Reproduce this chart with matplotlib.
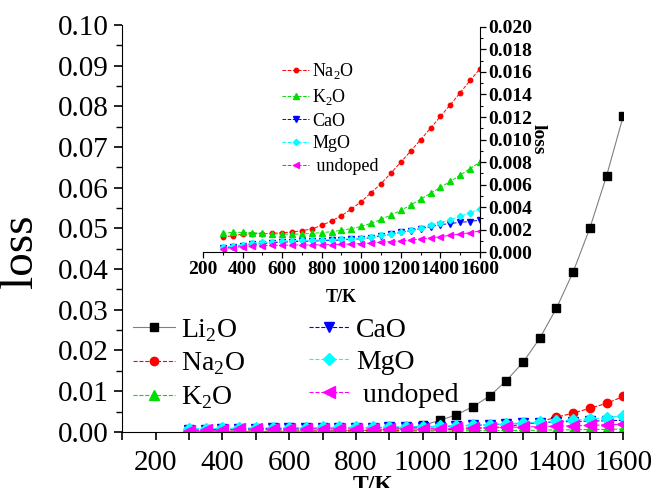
import numpy as np
import matplotlib
matplotlib.use("Agg")
import matplotlib.pyplot as plt
from matplotlib.ticker import MultipleLocator, FormatStrFormatter

plt.rcParams['font.family'] = 'Liberation Serif'
plt.rcParams['mathtext.fontset'] = 'custom'
plt.rcParams['mathtext.rm'] = 'Liberation Serif'

# Temperatures (K)
T = np.arange(300, 1601, 50)

# Main plot values
li2o = [0.0001, 0.0001, 0.0001, 0.0001, 0.0001, 0.0001, 0.0002, 0.0002, 0.0002, 0.0003,
        0.0003, 0.0004, 0.0006, 0.0009, 0.0016, 0.0028, 0.0042, 0.0062, 0.0088, 0.0126,
        0.0171, 0.0230, 0.0304, 0.0393, 0.0501, 0.0629, 0.0776]
na2o_main = [0.0002, 0.0002, 0.0002, 0.0002, 0.0002, 0.0002, 0.0002, 0.0002, 0.0002, 0.0002,
             0.0003, 0.0003, 0.0003, 0.0004, 0.0004, 0.0005, 0.0006, 0.0008, 0.0010, 0.0013,
             0.0018, 0.0025, 0.0036, 0.0046, 0.0058, 0.0070, 0.0087]
k2o_main = [0.0001, 0.0001, 0.0001, 0.0001, 0.0001, 0.0001, 0.0001, 0.0001, 0.0001, 0.0001,
            0.0001, 0.0001, 0.0001, 0.0002, 0.0002, 0.0002, 0.0002, 0.0003, 0.0003, 0.0003,
            0.0004, 0.0004, 0.0005, 0.0005, 0.0006, 0.0006, 0.0007]
cao_main = [0.0004, 0.0005, 0.0006, 0.0007, 0.0008, 0.00085, 0.0009, 0.00094, 0.00097, 0.0010,
            0.00102, 0.00105, 0.0011, 0.00115, 0.0012, 0.0013, 0.00145, 0.0016, 0.00178, 0.00192,
            0.0021, 0.00227, 0.00245, 0.00255, 0.00266, 0.00272, 0.00287]
mgo_main = [0.0008, 0.0008, 0.0009, 0.0009, 0.0010, 0.0010, 0.0010, 0.0010, 0.0011, 0.0011,
            0.0011, 0.0011, 0.0012, 0.0012, 0.0013, 0.0014, 0.0015, 0.0017, 0.0018, 0.0020,
            0.0022, 0.0024, 0.0026, 0.0029, 0.0032, 0.0035, 0.0040]
undoped_main = [0.0003, 0.0004, 0.0005, 0.0006, 0.0006, 0.0006, 0.0006, 0.0007, 0.0007, 0.0007,
                0.0007, 0.0007, 0.0007, 0.0007, 0.0008, 0.0008, 0.0009, 0.0010, 0.0010, 0.0011,
                0.0012, 0.0013, 0.0014, 0.0015, 0.0016, 0.0017, 0.0019]

# Inset values
na2o_in = [0.00133, 0.00148, 0.0016, 0.00165, 0.00165, 0.00168, 0.00174, 0.0018, 0.00192, 0.00207,
           0.00239, 0.00278, 0.00325, 0.00384, 0.00449, 0.00529, 0.00609, 0.00703, 0.0080, 0.00898,
           0.00999, 0.0110, 0.01205, 0.01309, 0.01415, 0.01524, 0.01628]
k2o_in = [0.00168, 0.00177, 0.00177, 0.00174, 0.00168, 0.00165, 0.00162, 0.0016, 0.00162, 0.00168,
          0.00174, 0.00183, 0.00195, 0.0021, 0.0023, 0.00257, 0.00292, 0.00331, 0.00372, 0.0042,
          0.0047, 0.00523, 0.00576, 0.00629, 0.00685, 0.00742, 0.0080]
cao_in = [0.0004, 0.0005, 0.0006, 0.0007, 0.00078, 0.00085, 0.0009, 0.00094, 0.00097, 0.0010,
          0.00102, 0.00105, 0.0011, 0.00115, 0.0012, 0.0013, 0.00145, 0.0016, 0.00178, 0.00192,
          0.0021, 0.00227, 0.00245, 0.00255, 0.00266, 0.00272, 0.00287]
mgo_in = [0.00044, 0.00056, 0.00068, 0.0008, 0.00089, 0.00095, 0.0010, 0.00103, 0.00106, 0.00109,
          0.00109, 0.00112, 0.00115, 0.00121, 0.00127, 0.00139, 0.00151, 0.00165, 0.0018, 0.00198,
          0.00216, 0.00239, 0.00263, 0.0029, 0.00319, 0.00352, 0.00387]
undoped_in = [0.00032, 0.00041, 0.0005, 0.00056, 0.00059, 0.00062, 0.00062, 0.00065, 0.00065, 0.00065,
              0.00068, 0.00068, 0.00071, 0.00074, 0.00077, 0.00083, 0.00089, 0.00095, 0.0010, 0.00109,
              0.00118, 0.00127, 0.00139, 0.00151, 0.00162, 0.00174, 0.00189]

colors = {'Li': 'black', 'Na': 'red', 'K': '#00dd00', 'Ca': 'blue', 'Mg': 'cyan', 'un': 'magenta'}

fig = plt.figure(figsize=(6.54, 4.88), dpi=100)

# Main axes
ax = fig.add_axes([0.187, 0.115, 0.766, 0.834])
ax.plot(T, li2o, '-', color='gray', lw=0.8, marker='s', ms=6, mfc='black', mec='black', label='Li$_2$O')
ax.plot(T, na2o_main, '--', color=colors['Na'], lw=0.8, marker='o', ms=6, label='Na$_2$O')
ax.plot(T, k2o_main, '--', color=colors['K'], lw=0.8, marker='^', ms=7, label='K$_2$O')
ax.plot(T, cao_main, '--', color=colors['Ca'], lw=0.8, marker='v', ms=7, label='CaO')
ax.plot(T, mgo_main, '--', color=colors['Mg'], lw=0.8, marker='D', ms=6, label='MgO')
ax.plot(T, undoped_main, '--', color=colors['un'], lw=0.8, marker='<', ms=8, label=' undoped')

ax.set_xlim(100, 1600)
ax.set_ylim(0, 0.10)
ax.xaxis.set_major_locator(MultipleLocator(200))
ax.xaxis.set_minor_locator(MultipleLocator(100))
ax.yaxis.set_major_locator(MultipleLocator(0.01))
ax.yaxis.set_minor_locator(MultipleLocator(0.005))
ax.yaxis.set_major_formatter(FormatStrFormatter('%.2f'))
ax.spines['top'].set_visible(False)
ax.spines['right'].set_visible(False)
ax.tick_params(axis='both', which='major', labelsize=21, length=6, width=1.2)
ax.tick_params(axis='x', which='major', pad=7)
ax.tick_params(axis='both', which='minor', length=4, width=1.0)
ax.tick_params(axis='x', which='minor', length=6, width=1.2)
ax.set_ylabel('loss', fontsize=34)
ax.yaxis.set_label_coords(-0.16, 0.445)
ax.set_xlabel('T/K', fontsize=17, fontweight='bold', labelpad=-1)

ax.legend(loc='upper left', bbox_to_anchor=(0.0, 0.31), ncol=2, frameon=False,
          fontsize=20, handlelength=1.5, handletextpad=0.2, labelspacing=0.25,
          columnspacing=2.3, borderaxespad=0)

# Inset axes
ins = fig.add_axes([0.3104, 0.483, 0.4235, 0.462])
ins.plot(T, na2o_in, '--', color=colors['Na'], lw=0.7, marker='o', ms=3.2, label='Na$_2$O')
ins.plot(T, k2o_in, '--', color=colors['K'], lw=0.7, marker='^', ms=3.8, label='K$_2$O')
ins.plot(T, cao_in, '--', color=colors['Ca'], lw=0.7, marker='v', ms=3.8, label='CaO')
ins.plot(T, mgo_in, '--', color=colors['Mg'], lw=0.7, marker='D', ms=3.2, label='MgO')
ins.plot(T, undoped_in, '--', color=colors['un'], lw=0.7, marker='<', ms=4, label=' undoped')
ins.set_xlim(200, 1600)
ins.set_ylim(0, 0.020)
ins.xaxis.set_major_locator(MultipleLocator(200))
ins.xaxis.set_minor_locator(MultipleLocator(100))
ins.yaxis.set_major_locator(MultipleLocator(0.002))
ins.yaxis.set_minor_locator(MultipleLocator(0.001))
ins.yaxis.set_major_formatter(FormatStrFormatter('%.3f'))
ins.yaxis.tick_right()
ins.yaxis.set_label_position('right')
ins.spines['top'].set_visible(False)
ins.spines['left'].set_visible(False)
ins.patch.set_alpha(0)
ins.tick_params(axis='both', which='major', labelsize=14, length=4, width=0.9, pad=2)
ins.tick_params(axis='both', which='minor', length=2.5, width=0.8)
for lab in ins.get_xticklabels() + ins.get_yticklabels():
    lab.set_fontweight('bold')
ins.set_xlabel('T/K', fontsize=13, fontweight='bold', labelpad=8)
ins.set_ylabel('loss', fontsize=14, fontweight='bold', rotation=270, labelpad=10)

ins.legend(loc='upper left', bbox_to_anchor=(0.26, 0.88), frameon=False,
           fontsize=13, handlelength=1.5, handletextpad=0.15, labelspacing=0.32,
           borderaxespad=0)

fig.savefig('out.png', dpi=100)
